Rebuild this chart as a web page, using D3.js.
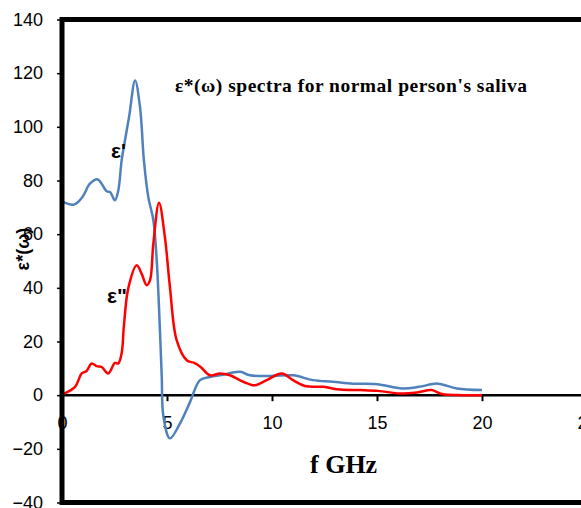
<!DOCTYPE html>
<html>
<head>
<meta charset="utf-8">
<script src="https://cdn.jsdelivr.net/npm/d3@7"></script>
<style>
  body { margin: 0; background: #fff; }
  svg { display: block; }
  .tick text { font-family: "Liberation Sans", Arial, sans-serif; font-size: 18px; fill: #000; }
</style>
</head>
<body>
<div id="chart"></div>
<script>
const realFreq = [0, 0.57, 0.97, 1.33, 1.7, 2.13, 2.29, 2.52, 2.68, 2.84, 3.0, 3.2, 3.48, 3.72, 3.9, 4.11, 4.35, 4.51, 4.67, 4.75, 4.83, 5.14, 5.62, 6.1, 6.57, 7.05, 7.6, 8.48, 8.95, 9.9, 11.0, 11.95, 12.9, 13.86, 15.0, 16.2, 17.0, 17.9, 18.8, 20];
const realVals = [72.2, 71, 73.8, 78.8, 80.4, 76, 75.7, 72.6, 76.3, 87.5, 95, 104, 117.3, 107, 87.5, 73.8, 65.2, 50.3, 23, 6.8, -8, -16.1, -10.5, -2.5, 5.6, 6.8, 7.5, 8.7, 7.4, 7.1, 7.4, 5.6, 5, 4.3, 4.1, 2.5, 3.1, 4.3, 2.5, 1.9];

// eps'' (loss part)
const lossFreq = [0.06, 0.62, 0.94, 1.17, 1.41, 1.65, 1.89, 2.2, 2.52, 2.68, 2.84, 2.95, 3.16, 3.56, 3.79, 4.03, 4.19, 4.35, 4.62, 4.9, 5.14, 5.46, 5.94, 6.3, 6.6, 7.05, 7.52, 8.0, 8.63, 9.19, 9.75, 10.46, 11.0, 11.57, 12.44, 13.24, 14.2, 15.05, 16.1, 16.9, 17.6, 18.1, 19.1, 20];
const lossVals = [0.4, 3.1, 8.1, 9, 11.8, 10.8, 10.5, 8.1, 12, 11.8, 15.6, 26, 40, 48.4, 45.3, 41, 42.8, 56.5, 71.7, 58.9, 40.3, 20.5, 13, 12, 10.5, 7.4, 8.1, 7.4, 5, 3.7, 5.6, 8.1, 5.6, 3.4, 3.1, 2.1, 1.9, 1.6, 0.6, 1, 1.9, 0.4, 0, 0];

const xTicks = [0, 5, 10, 15, 20, 25];
const yTicks = [-40, -20, 0, 20, 40, 60, 80, 100, 120, 140];

const width = 581, height = 508;
const plotLeft = 62, plotTop = 19.5, plotRight = 587, plotBottom = 502.5;

const svg = d3.select('#chart').append('svg')
    .attr('width', width)
    .attr('height', height);

const x = d3.scaleLinear().domain([0, 25]).range([plotLeft, plotRight]);
const y = d3.scaleLinear().domain([-40, 140]).range([plotBottom, plotTop]);

// y axis ticks + labels
const yAxis = svg.append('g')
    .attr('transform', 'translate(' + plotLeft + ',0)')
    .call(d3.axisLeft(y).tickValues(yTicks).tickSize(5).tickPadding(14));
yAxis.select('.domain').remove();
yAxis.selectAll('line').attr('stroke', '#000').attr('stroke-width', 1.5);

// x axis at zero
const xAxis = svg.append('g')
    .attr('transform', 'translate(0,' + y(0) + ')')
    .call(d3.axisBottom(x).tickValues(xTicks).tickSize(6).tickPadding(15));
xAxis.select('.domain').remove();
xAxis.selectAll('line').attr('stroke', '#000').attr('stroke-width', 2);

svg.append('line')
    .attr('x1', plotLeft).attr('x2', plotRight)
    .attr('y1', y(0)).attr('y2', y(0))
    .attr('stroke', '#000')
    .attr('stroke-width', 2.5);

const line = d3.line()
    .x(function(d) { return x(d[0]); })
    .y(function(d) { return y(d[1]); })
    .curve(d3.curveCatmullRom.alpha(0.5));

svg.append('path')
    .datum(d3.zip(realFreq, realVals))
    .attr('d', line)
    .attr('fill', 'none')
    .attr('stroke', '#4F81BD')
    .attr('stroke-width', 2.5);

svg.append('path')
    .datum(d3.zip(lossFreq, lossVals))
    .attr('d', line)
    .attr('fill', 'none')
    .attr('stroke', '#FF0000')
    .attr('stroke-width', 2.5);

// plot frame
svg.append('rect')
    .attr('x', plotLeft).attr('y', plotTop)
    .attr('width', plotRight - plotLeft).attr('height', plotBottom - plotTop)
    .attr('fill', 'none')
    .attr('stroke', '#000')
    .attr('stroke-width', 5);

svg.append('text')
    .attr('x', 175).attr('y', 92)
    .attr('textLength', 352)
    .attr('lengthAdjust', 'spacing')
    .style('font-family', '"Liberation Serif", "Times New Roman", serif')
    .style('font-weight', 'bold')
    .style('font-size', '19.5px')
    .text("ε*(ω) spectra for normal person's saliva");

svg.append('text')
    .attr('x', 310).attr('y', 473)
    .style('font-family', '"Liberation Serif", "Times New Roman", serif')
    .style('font-weight', 'bold')
    .style('font-size', '26px')
    .text('f GHz');

svg.append('text')
    .attr('transform', 'translate(29,249) rotate(-90)')
    .attr('text-anchor', 'middle')
    .style('font-family', '"Liberation Sans", Arial, sans-serif')
    .style('font-weight', 'bold')
    .style('font-size', '18px')
    .text('ε*(ω)');

svg.append('text')
    .attr('x', 111).attr('y', 158)
    .style('font-family', '"Liberation Sans", Arial, sans-serif')
    .style('font-weight', 'bold')
    .style('font-size', '21px')
    .text("ε'");

svg.append('text')
    .attr('x', 107).attr('y', 303)
    .style('font-family', '"Liberation Sans", Arial, sans-serif')
    .style('font-weight', 'bold')
    .style('font-size', '21px')
    .text('ε"');
</script>
</body>
</html>
